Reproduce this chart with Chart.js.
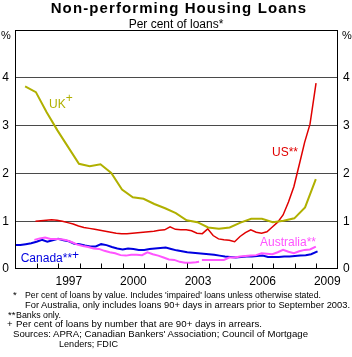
<!DOCTYPE html>
<html>
<head>
<meta charset="utf-8">
<script src="https://cdn.jsdelivr.net/npm/chart.js@4.4.0/dist/chart.umd.min.js"></script>
<style>
  body { margin: 0; background: #fff; }
  #wrap { position: relative; width: 352px; height: 357px; font-family: Arial, "Liberation Sans", sans-serif; color: #000; }
  #wrap canvas { position: absolute; left: 0; top: 0; }
  .t { position: absolute; white-space: nowrap; line-height: 1; }
  .fn { font-size: 9.5px; transform-origin: 0 0; }
  .lbl { font-size: 12px; }
</style>
</head>
<body>
<div id="wrap">
  <canvas id="chart" width="352" height="357"></canvas>
  <div class="t" style="left:3px;width:352px;text-align:center;top:0;font-size:15px;font-weight:bold;letter-spacing:1.1px;">Non-performing Housing Loans</div>
  <div class="t" style="left:0;width:352px;text-align:center;top:17.7px;font-size:12px;">Per cent of loans*</div>
  <div class="t" style="left:1px;top:30.3px;font-size:11px;">%</div>
  <div class="t" style="left:342px;top:30.3px;font-size:11px;">%</div>

  <div class="t lbl" style="left:49px;top:98.4px;color:#b0b000;">UK<span style="position:relative;top:-6px;">+</span></div>
  <div class="t lbl" style="left:272px;top:146.1px;color:#e00000;">US**</div>
  <div class="t lbl" style="left:260px;top:235.7px;color:#ff55ff;">Australia**</div>
  <div class="t lbl" style="left:20.7px;top:251.7px;color:#0000e0;">Canada**<span style="position:relative;top:-3px;">+</span></div>

  <div class="t fn" style="left:13px;top:290.3px;">*</div>
  <div class="t fn" data-w="296" style="left:25px;top:290.3px;">Per cent of loans by value. Includes 'impaired' loans unless otherwise stated.</div>
  <div class="t fn" data-w="325" style="left:25px;top:300.3px;">For Australia, only includes loans 90+ days in arrears prior to September 2003.</div>
  <div class="t fn" style="left:8px;top:309.7px;">**</div>
  <div class="t fn" data-w="45" style="left:16px;top:309.7px;">Banks only.</div>
  <div class="t fn" style="left:7px;top:319.3px;">+</div>
  <div class="t fn" data-w="246" style="left:16px;top:319.3px;">Per cent of loans by number that are 90+ days in arrears.</div>
  <div class="t fn" data-w="295" style="left:12.7px;top:328.7px;">Sources: APRA; Canadian Bankers' Association; Council of Mortgage</div>
  <div class="t fn" data-w="59" style="left:59.3px;top:338.7px;">Lenders; FDIC</div>
</div>
<script>
// values (per cent), dates as decimal years
const ukDates = [1995.47, 1995.97, 1996.47, 1996.97, 1997.47, 1997.97, 1998.47, 1998.97, 1999.47, 1999.97,
    2000.47, 2000.97, 2001.47, 2001.97, 2002.47, 2002.97, 2003.47, 2003.97, 2004.47, 2004.97,
    2005.47, 2005.97, 2006.47, 2006.97, 2007.47, 2007.97, 2008.47, 2008.97];
const ukValues = [3.82, 3.70, 3.28, 2.90, 2.55, 2.20, 2.15, 2.19, 2.01, 1.66,
    1.50, 1.47, 1.36, 1.27, 1.17, 1.02, 0.98, 0.87, 0.84, 0.87,
    0.97, 1.05, 1.05, 0.98, 1.01, 1.06, 1.29, 1.88];

const usDates = [1995.95, 1996.2, 1996.45, 1996.7, 1996.95, 1997.2, 1997.45, 1997.7, 1997.95,
    1998.2, 1998.45, 1998.7, 1998.95, 1999.2, 1999.45, 1999.7, 1999.95,
    2000.2, 2000.45, 2000.7, 2000.95, 2001.2, 2001.45, 2001.7, 2001.95,
    2002.2, 2002.45, 2002.7, 2002.95, 2003.2, 2003.45, 2003.7, 2003.95,
    2004.2, 2004.45, 2004.7, 2004.95, 2005.2, 2005.45, 2005.7, 2005.95,
    2006.2, 2006.45, 2006.7, 2006.95, 2007.2, 2007.45, 2007.7, 2007.95,
    2008.2, 2008.45, 2008.7, 2008.98];
const usValues = [1.00, 1.01, 1.02, 1.03, 1.02, 1.00, 0.97, 0.94, 0.90,
    0.87, 0.85, 0.83, 0.81, 0.79, 0.77, 0.75, 0.74,
    0.74, 0.75, 0.76, 0.77, 0.78, 0.79, 0.81, 0.82,
    0.88, 0.83, 0.82, 0.82, 0.80, 0.75, 0.74, 0.84,
    0.70, 0.63, 0.61, 0.60, 0.57, 0.68, 0.76, 0.82,
    0.77, 0.75, 0.78, 0.88, 0.98, 1.13, 1.40, 1.72,
    2.18, 2.65, 3.03, 3.89];

// null marks the series break in September 2003
const ausDates = [1995.9, 1996.15, 1996.4, 1996.65, 1996.9, 1997.15, 1997.4, 1997.65, 1997.9,
    1998.15, 1998.4, 1998.65, 1998.9, 1999.15, 1999.4, 1999.65, 1999.9,
    2000.15, 2000.4, 2000.65, 2000.9, 2001.15, 2001.4, 2001.65, 2001.9,
    2002.15, 2002.4, 2002.65, 2002.9, 2003.15, 2003.4, 2003.55, 2003.6, 2003.68,
    2003.95, 2004.2, 2004.45, 2004.7, 2004.95, 2005.2, 2005.45, 2005.7, 2005.95,
    2006.2, 2006.45, 2006.7, 2006.95, 2007.2, 2007.45, 2007.7, 2007.95,
    2008.2, 2008.45, 2008.7, 2008.97];
const ausValues = [0.61, 0.64, 0.66, 0.63, 0.63, 0.62, 0.60, 0.56, 0.51,
    0.48, 0.46, 0.43, 0.42, 0.38, 0.35, 0.33, 0.29,
    0.28, 0.30, 0.30, 0.29, 0.35, 0.31, 0.28, 0.24,
    0.20, 0.19, 0.15, 0.13, 0.13, 0.14, 0.15, null, 0.19,
    0.19, 0.19, 0.19, 0.19, 0.24, 0.24, 0.26, 0.27, 0.28,
    0.29, 0.33, 0.32, 0.31, 0.35, 0.40, 0.36, 0.33,
    0.37, 0.40, 0.41, 0.47];

const canDates = [1995.0, 1995.25, 1995.5, 1995.75, 1996.0, 1996.25, 1996.5, 1996.75,
    1997.0, 1997.25, 1997.5, 1997.75, 1998.0, 1998.25, 1998.5, 1998.75,
    1999.0, 1999.25, 1999.5, 1999.75, 2000.0, 2000.25, 2000.5, 2000.75,
    2001.0, 2001.25, 2001.5, 2001.75, 2002.0, 2002.25, 2002.5, 2002.75,
    2003.0, 2003.25, 2003.5, 2003.75, 2004.0, 2004.25, 2004.5, 2004.75,
    2005.0, 2005.25, 2005.5, 2005.75, 2006.0, 2006.25, 2006.5, 2006.75,
    2007.0, 2007.25, 2007.5, 2007.75, 2008.0, 2008.25, 2008.5, 2008.75, 2009.05];
const canValues = [0.50, 0.50, 0.52, 0.54, 0.57, 0.61, 0.57, 0.60,
    0.63, 0.60, 0.58, 0.53, 0.52, 0.49, 0.47, 0.47,
    0.52, 0.50, 0.46, 0.43, 0.41, 0.43, 0.42, 0.40,
    0.40, 0.42, 0.43, 0.44, 0.45, 0.42, 0.39, 0.37,
    0.35, 0.34, 0.33, 0.32, 0.31, 0.30, 0.28, 0.26,
    0.25, 0.24, 0.25, 0.26, 0.26, 0.27, 0.28, 0.25,
    0.25, 0.25, 0.26, 0.26, 0.27, 0.28, 0.29, 0.31, 0.37];

const labelYears = [1997, 2000, 2003, 2006, 2009];
const yTicks = [0, 1, 2, 3, 4];

function pairs(dates, values) {
    return dates.map((d, i) => ({ x: d, y: values[i] }));
}

function series(label, dates, values, color, width) {
    return {
        label: label,
        data: pairs(dates, values),
        borderColor: color,
        borderWidth: width,
        pointRadius: 0,
        tension: 0,
        spanGaps: false,
        fill: false,
    };
}

// frame and inward year ticks
const framePlugin = {
    id: 'frame',
    afterDraw(chart) {
        const ctx = chart.ctx;
        const a = chart.chartArea;
        const xs = chart.scales.x;
        ctx.save();
        ctx.strokeStyle = '#000';
        ctx.lineWidth = 1;
        const l = Math.round(a.left) + 0.5, r = Math.round(a.right) - 0.5;
        const t = Math.round(a.top) + 0.5, b = Math.round(a.bottom) - 0.5;
        ctx.strokeRect(l, t, r - l, b - t);
        ctx.beginPath();
        for (let yr = 1996; yr <= 2009; yr++) {
            const px = Math.round(xs.getPixelForValue(yr)) + 0.5;
            ctx.moveTo(px, b);
            ctx.lineTo(px, b - 5);
        }
        ctx.stroke();
        ctx.restore();
    }
};

Chart.defaults.color = '#000';
Chart.defaults.font.family = 'Arial, "Liberation Sans", sans-serif';
Chart.defaults.font.size = 12;

new Chart(document.getElementById('chart').getContext('2d'), {
    type: 'line',
    data: {
        datasets: [
            series('UK', ukDates, ukValues, '#b0b000', 2),
            series('US', usDates, usValues, '#e00000', 1.5),
            series('Australia', ausDates, ausValues, '#ff55ff', 2),
            series('Canada', canDates, canValues, '#0000e0', 2),
        ]
    },
    options: {
        responsive: false,
        animation: false,
        layout: { padding: { top: 30, bottom: 68, left: 0, right: 0 } },
        plugins: { legend: { display: false }, tooltip: { enabled: false } },
        scales: {
            x: {
                type: 'linear',
                min: 1995,
                max: 2010,
                grid: { display: false, drawTicks: false },
                border: { display: false },
                ticks: {
                    stepSize: 0.5,
                    autoSkip: false,
                    maxRotation: 0,
                    padding: 5,
                    callback: v => (labelYears.includes(v - 0.5) ? String(v - 0.5) : ''),
                },
                afterFit: s => { s.height = 20; },
            },
            y: {
                position: 'left',
                min: 0,
                max: 5,
                border: { display: false },
                grid: {
                    drawTicks: false,
                    color: c => (c.tick.value > 0 && c.tick.value < 5 ? '#4a4a4a' : 'rgba(0,0,0,0)'),
                },
                ticks: {
                    stepSize: 1,
                    padding: 6,
                    callback: v => (yTicks.includes(v) ? String(v) : ''),
                },
                afterFit: s => { s.width = 15; },
            },
            y2: {
                position: 'right',
                min: 0,
                max: 5,
                border: { display: false },
                grid: { display: false, drawTicks: false },
                ticks: {
                    stepSize: 1,
                    padding: 5,
                    callback: v => (yTicks.includes(v) ? String(v) : ''),
                },
                afterFit: s => { s.width = 14; },
            },
        }
    },
    plugins: [framePlugin]
});

// stretch/squeeze each footnote line to the width it has in the original
document.querySelectorAll('.fn[data-w]').forEach(el => {
    const w = el.getBoundingClientRect().width;
    el.style.transform = 'scaleX(' + (Number(el.dataset.w) / w) + ')';
});
</script>
</body>
</html>
